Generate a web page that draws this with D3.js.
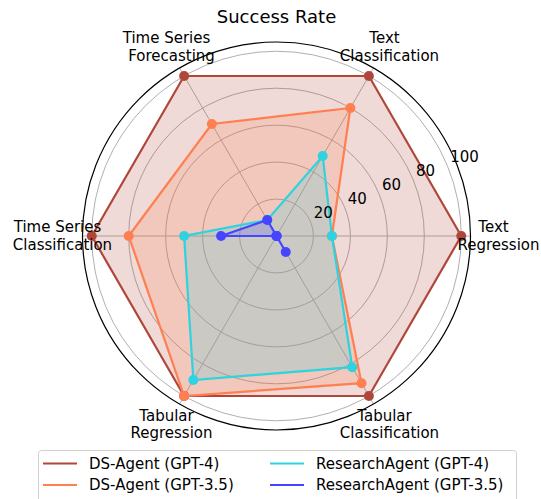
<!DOCTYPE html>
<html>
<head>
<meta charset="utf-8">
<script src="https://d3js.org/d3.v7.min.js"></script>
<style>
    body { margin: 0; background: white; }
    text { font-family: "DejaVu Sans", sans-serif; fill: black; }
</style>
</head>
<body>
<svg id="radar" width="541" height="499"></svg>
<script>
    // categories in angle order, counter-clockwise from the right
    const categories = [
        ["Text", "Regression"],
        ["Text", "Classification"],
        ["Time Series", "Forecasting"],
        ["Time Series", "Classification"],
        ["Tabular", "Regression"],
        ["Tabular", "Classification"]
    ];
    const dsAgentGpt4 = [100, 100, 100, 100, 100, 100];
    const dsAgentGpt35 = [30, 80, 70, 80, 100, 92];
    const researchAgentGpt4 = [30, 50, 10, 50, 90, 82];
    const researchAgentGpt35 = [0, 0, 10, 30, 0, 10];
    const seriesNames = ["DS-Agent (GPT-4)", "DS-Agent (GPT-3.5)", "ResearchAgent (GPT-4)", "ResearchAgent (GPT-3.5)"];
    const radialTicks = [20, 40, 60, 80, 100];

    const series = [
        { name: seriesNames[0], values: dsAgentGpt4, color: "#b0463a" },
        { name: seriesNames[1], values: dsAgentGpt35, color: "#ff7f50" },
        { name: seriesNames[2], values: researchAgentGpt4, color: "#2fd3df" },
        { name: seriesNames[3], values: researchAgentGpt35, color: "#4545ff" }
    ];

    const svg = d3.select("#radar");
    const cx = 276.5, cy = 236;
    const rScale = d3.scaleLinear().domain([0, 105]).range([0, 194]);
    const angleScale = d3.scaleLinear().domain([0, categories.length]).range([0, 2 * Math.PI]);

    // point on the polar plane (angle counter-clockwise from east)
    const px = (i, r) => cx + r * Math.cos(angleScale(i));
    const py = (i, r) => cy - r * Math.sin(angleScale(i));

    let grid = svg.append("g").attr("id", "grid");
    let plot = svg.append("g").attr("id", "plot");
    let labels = svg.append("g").attr("id", "labels");

    // rings
    grid.selectAll("circle.ring").data(radialTicks)
        .join("circle")
        .attr("class", "ring")
        .attr("cx", cx).attr("cy", cy)
        .attr("r", d => rScale(d))
        .attr("fill", "none")
        .attr("stroke", "#b0b0b0")
        .attr("stroke-width", 1);

    // spokes
    grid.selectAll("line.spoke").data(categories)
        .join("line")
        .attr("class", "spoke")
        .attr("x1", cx).attr("y1", cy)
        .attr("x2", (d, i) => px(i, rScale(105)))
        .attr("y2", (d, i) => py(i, rScale(105)))
        .attr("stroke", "#b0b0b0")
        .attr("stroke-width", 1);

    // polygons
    const lineGen = d3.lineRadial()
        .angle((d, i) => Math.PI / 2 - angleScale(i))
        .radius(d => rScale(d))
        .curve(d3.curveLinearClosed);

    series.forEach(s => {
        let g = plot.append("g").attr("transform", `translate(${cx},${cy})`);
        g.append("path")
            .datum(s.values)
            .attr("d", lineGen)
            .attr("fill", s.color)
            .attr("fill-opacity", 0.2)
            .attr("stroke", "none");
    });
    series.forEach(s => {
        let g = plot.append("g").attr("transform", `translate(${cx},${cy})`);
        g.append("path")
            .datum(s.values)
            .attr("d", lineGen)
            .attr("fill", "none")
            .attr("stroke", s.color)
            .attr("stroke-width", 2.2);
        g.selectAll("circle").data(s.values)
            .join("circle")
            .attr("cx", (d, i) => px(i, rScale(d)) - cx)
            .attr("cy", (d, i) => py(i, rScale(d)) - cy)
            .attr("r", 5)
            .attr("fill", s.color);
    });

    // outer spine, on top of the polygons
    svg.append("circle")
        .attr("cx", cx).attr("cy", cy)
        .attr("r", rScale(105))
        .attr("fill", "none")
        .attr("stroke", "black")
        .attr("stroke-width", 1.2);

    // radial tick labels at 22.5 degrees
    const rAng = 22.5 * Math.PI / 180;
    labels.selectAll("text.rtick").data(radialTicks)
        .join("text")
        .attr("class", "rtick")
        .attr("x", d => cx + rScale(d) * Math.cos(rAng) + 3)
        .attr("y", d => cy - rScale(d) * Math.sin(rAng) - 3.5)
        .attr("font-size", 15)
        .text(d => d);

    // category labels
    const labelR = 218;
    categories.forEach((c, i) => {
        const x = px(i, labelR), y = py(i, labelR);
        labels.append("text")
            .attr("x", x - 1).attr("y", y - 9)
            .attr("text-anchor", "middle")
            .attr("dominant-baseline", "central")
            .attr("font-size", 15)
            .text(c[0]);
        labels.append("text")
            .attr("x", x + 4).attr("y", y + 8.5)
            .attr("text-anchor", "middle")
            .attr("dominant-baseline", "central")
            .attr("font-size", 15)
            .text(c[1]);
    });

    // title
    svg.append("text")
        .attr("x", cx).attr("y", 16)
        .attr("text-anchor", "middle")
        .attr("dominant-baseline", "central")
        .attr("font-size", 18)
        .text("Success Rate");

    // legend
    let legend = svg.append("g").attr("id", "legend");
    legend.append("rect")
        .attr("x", 38.5).attr("y", 450.5)
        .attr("width", 478).attr("height", 70)
        .attr("rx", 3)
        .attr("fill", "white")
        .attr("fill-opacity", 0.8)
        .attr("stroke", "#d0d0d0");
    const colX = [43, 270], rowY = [463.5, 485];
    series.forEach((s, i) => {
        const col = Math.floor(i / 2), row = i % 2;
        legend.append("line")
            .attr("x1", colX[col]).attr("x2", colX[col] + 34)
            .attr("y1", rowY[row]).attr("y2", rowY[row])
            .attr("stroke", s.color)
            .attr("stroke-width", 2.2);
        legend.append("text")
            .attr("x", colX[col] + 46).attr("y", rowY[row])
            .attr("dominant-baseline", "central")
            .attr("font-size", 15)
            .text(s.name);
    });
</script>
</body>
</html>
